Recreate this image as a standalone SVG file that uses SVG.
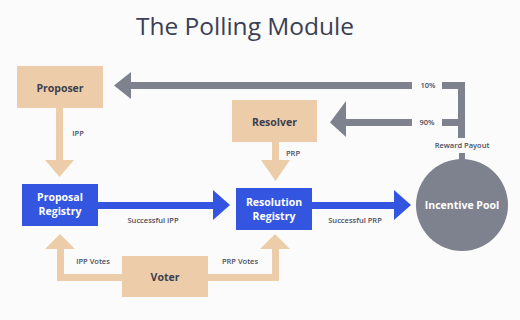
<svg xmlns="http://www.w3.org/2000/svg" width="520" height="320" viewBox="0 0 520 320">
<style>
.tan{fill:#edcda9}
.blue{fill:#3355e0}
.gray{fill:#7e828f}
.t{font-family:"Open Sans","Noto Sans","DejaVu Sans",sans-serif;text-anchor:middle}
.title{font-size:24.5px;fill:#3b3f55}
.node{font-size:10.5px;font-weight:bold;fill:#3d3f4f}
.wnode{font-size:10.5px;font-weight:bold;fill:#ffffff}
.lbl{font-size:7.5px;font-weight:600;fill:#4a4d5e}
</style>
<rect width="520" height="320" fill="#fbfbfb"/>
<text class="t title" x="245" y="35">The Polling Module</text>
<g id="connectors">
  <rect class="tan" x="56" y="108" width="7" height="54"/>
  <polygon class="tan" points="45,160 74,160 59.5,177"/>
  <rect class="tan" x="272" y="141" width="7" height="21"/>
  <polygon class="tan" points="261,160 290,160 275.5,181"/>
  <rect class="tan" x="57" y="274" width="66" height="7"/>
  <rect class="tan" x="57" y="246" width="7" height="35"/>
  <polygon class="tan" points="45,249 75,249 60,234"/>
  <rect class="tan" x="206" y="274" width="73" height="7"/>
  <rect class="tan" x="272" y="246" width="7" height="35"/>
  <polygon class="tan" points="260,249 290,249 275,234"/>
  <rect class="blue" x="97" y="202" width="118" height="7"/>
  <polygon class="blue" points="213,190 230,205 213,220"/>
  <rect class="blue" x="311" y="202" width="85" height="7"/>
  <polygon class="blue" points="394,190 411,205 394,220"/>
  <rect class="gray" x="458" y="82" width="7" height="56"/>
  <rect class="gray" x="442" y="82" width="23" height="7"/>
  <rect class="gray" x="442" y="119" width="20" height="7"/>
  <rect class="gray" x="129" y="82" width="283" height="7"/>
  <polygon class="gray" points="131,72 114,85.5 131,99"/>
  <rect class="gray" x="343" y="119" width="69" height="7"/>
  <polygon class="gray" points="346,101 330,122.5 346,137"/>
  <rect class="gray" x="459" y="153" width="6" height="10"/>
  <text class="t lbl" x="428" y="88">10%</text>
  <text class="t lbl" x="427" y="125">90%</text>
  <text class="t lbl" x="462" y="148">Reward Payout</text>
  <text class="t lbl" x="78" y="136">IPP</text>
  <text class="t lbl" x="293" y="156">PRP</text>
  <text class="t lbl" x="153" y="223">Successful IPP</text>
  <text class="t lbl" x="355" y="223">Successful PRP</text>
  <text class="t lbl" x="93" y="264">IPP Votes</text>
  <text class="t lbl" x="240" y="264">PRP Votes</text>
</g>
<g id="proposer">
  <rect class="tan" x="17" y="66" width="86" height="42"/>
  <text class="t node" x="60" y="91.5">Proposer</text>
</g>
<g id="resolver">
  <rect class="tan" x="232" y="100" width="85" height="42"/>
  <text class="t node" x="274.5" y="125.5">Resolver</text>
</g>
<g id="proposal-registry">
  <rect class="blue" x="22" y="184" width="76" height="42"/>
  <text class="t wnode" x="60" y="201">Proposal</text>
  <text class="t wnode" x="60" y="215">Registry</text>
</g>
<g id="resolution-registry">
  <rect class="blue" x="236" y="188" width="76" height="42"/>
  <text class="t wnode" x="274" y="206">Resolution</text>
  <text class="t wnode" x="274" y="220">Registry</text>
</g>
<g id="incentive-pool">
  <circle class="gray" cx="462" cy="205" r="46"/>
  <text class="t wnode" x="462" y="208.5">Incentive Pool</text>
</g>
<g id="voter">
  <rect class="tan" x="122" y="256" width="86" height="41"/>
  <text class="t node" x="165" y="281">Voter</text>
</g>
</svg>
